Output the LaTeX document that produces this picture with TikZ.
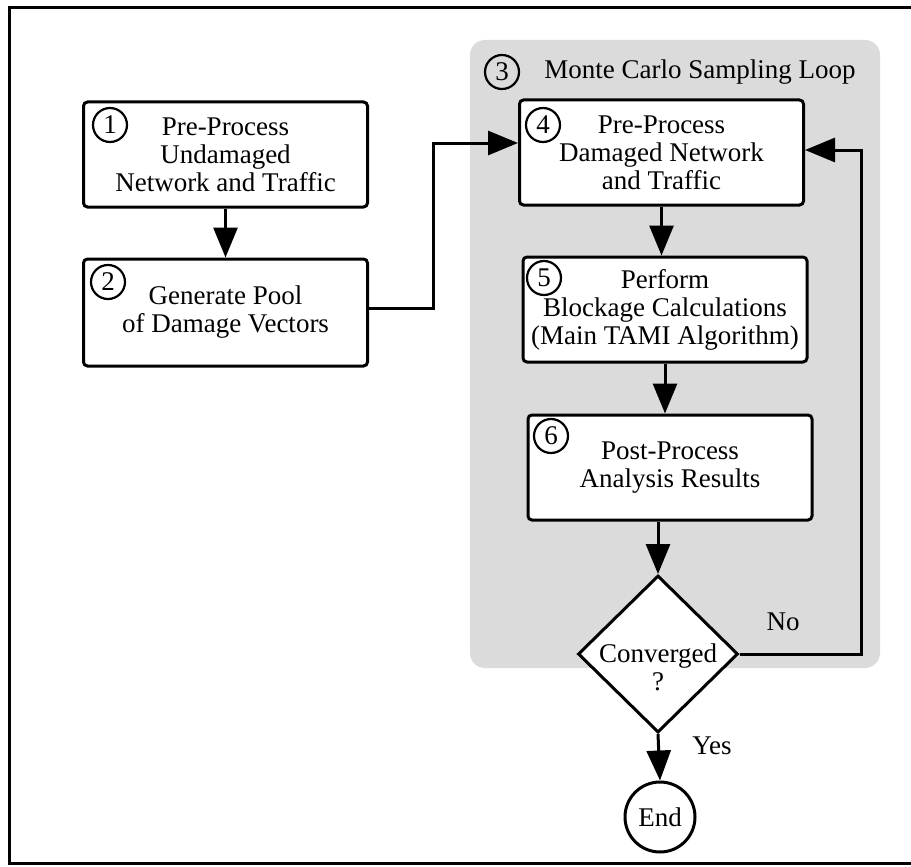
\documentclass[tikz,border=0pt]{standalone}
\usepackage{fontspec}
\setmainfont{Liberation Serif}
\usetikzlibrary{arrows.meta,shapes.geometric}

\begin{document}
\begin{tikzpicture}[x=1pt,y=-1pt,
		procbox/.style={draw,fill=white,line width=3pt,rounded corners=4pt,align=center,
			minimum width=284pt,minimum height=105pt,inner sep=0pt},
		numcirc/.style={circle,draw,line width=2.2pt,minimum size=34pt,inner sep=0pt},
		arr/.style={line width=3pt,-{Triangle[length=30pt,width=24pt]}},
		every node/.style={font=\fontsize{27}{28}\selectfont}]
		\useasboundingbox (0,0) rectangle (911,867);
		
		% frame
		\draw[line width=3pt] (915,8) -- (9,8) -- (9,863) -- (915,863);
		
		% Monte Carlo region (3)
		\fill[black!14,rounded corners=15pt] (470,40) rectangle (880,668);
		\node[numcirc] (n3) at (502,72) {3};
		\node (loop) at (700,72) {Monte Carlo Sampling Loop};
		
		% Box 1
		\node[procbox,minimum height=105pt] (b1) at (225.5,154.5) {Pre-Process\\Undamaged\\Network and Traffic};
		\node[numcirc] (n1) at (110,125) {1};
		
		% Box 2
		\node[procbox,minimum height=107pt] (b2) at (225.5,312.5) {Generate Pool\\of Damage Vectors};
		\node[numcirc] (n2) at (108,282) {2};
		
		% Box 4
		\node[procbox] (b4) at (661.5,152.5) {Pre-Process\\Damaged Network\\and Traffic};
		\node[numcirc] (n4) at (543,125) {4};
		
		% Box 5
		\node[procbox] (b5) at (665,309.5) {Perform\\Blockage Calculations\\(Main TAMI Algorithm)};
		\node[numcirc] (n5) at (544,278) {5};
		
		% Box 6
		\node[procbox] (b6) at (670,467.5) {Post-Process\\Analysis Results};
		\node[numcirc] (n6) at (551,436) {6};
		
		% Decision
		\node[diamond,draw,fill=white,line width=3pt,minimum width=160pt,minimum height=157pt,inner sep=0pt] (conv) at (658,654) {};
		\node[align=center] (convtxt) at (658,667) {Converged\\?};
		
		% End
		\node[circle,draw,line width=3pt,minimum size=70pt,inner sep=0pt] (endc) at (660,817) {End};
		
		% connectors
		\draw[arr] (b1.south) -- (b2.north);
		\draw[arr] ([yshift=4pt]b2.east) -- ++(64,0) |- ([yshift=9.5pt]b4.west);
		\draw[arr] (b4.south) -- (b4.south |- b5.north);
		\draw[arr] (b5.south) -- (b5.south |- b6.north);
		\draw[arr] (conv.north |- b6.south) -- (conv.north);
		\draw[arr] (conv.south) -- (endc.north);
		\draw[arr] (conv.east) -- ++(122,0) |- ([yshift=2.5pt]b4.east);
		
		% branch labels
		\node (no) at (783,622) {No};
		\node (yes) at (712,746) {Yes};
	\end{tikzpicture}
\end{document}
